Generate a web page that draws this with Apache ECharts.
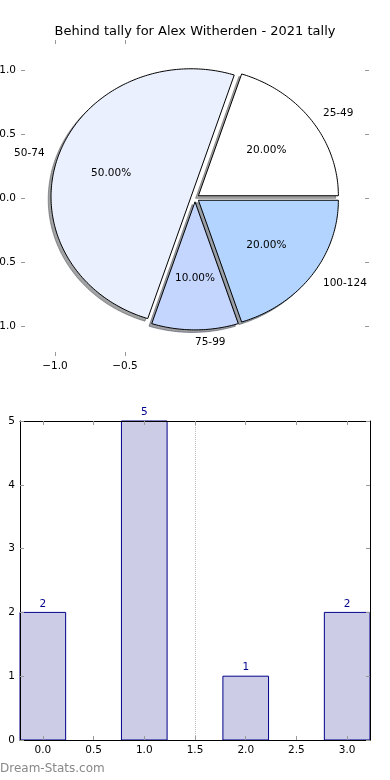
<!DOCTYPE html>
<html><head><meta charset="utf-8">
<script src="https://cdn.jsdelivr.net/npm/echarts@6/dist/echarts.min.js"></script>
<style>html,body{margin:0;padding:0;background:#fff}#c{width:390px;height:780px}</style>
</head><body><div id="c"></div>
<script>
// ---- data ----
const chartTitle = 'Behind tally for Alex Witherden - 2021 tally';
const pieCategories = ['25-49', '50-74', '75-99', '100-124'];
const pieValues = [2, 5, 1, 2];
const pieColors = ['#ffffff', '#eaf0fe', '#c5d6fe', '#b3d4fe'];
const pieXTicks = [-1, -0.5];
const pieYTicks = [-1, -0.5, 0, 0.5, 1];
const barPositions = [0, 1, 2, 3];
const barValues = [2, 5, 1, 2];
const barXTicks = [0, 0.5, 1, 1.5, 2, 2.5, 3];
const barYTicks = [0, 1, 2, 3, 4, 5];
const dividerX = 1.5;
const watermark = 'Dream-Stats.com';

// ---- style constants ----
const FONT = '"DejaVu Sans", sans-serif';
const EXPLODE = 0.03, LABEL_DIST = 1.1, PCT_DIST = 0.6, SHADOW_OFF = -0.02;
const BAR_HALF = 0.225;
const TICK_COLOR = '#999999';

const total = pieValues.reduce((a, b) => a + b, 0);
const cum = []; let acc = 0;
pieValues.forEach(v => { cum.push(acc); acc += v; });

function geom(i) {
  const t1 = cum[i] / total * 360, t2 = (cum[i] + pieValues[i]) / total * 360;
  const tm = (t1 + t2) / 2 * Math.PI / 180;
  return { t1, t2, tm, cx: EXPLODE * Math.cos(tm), cy: EXPLODE * Math.sin(tm) };
}
function wedgePts(api, i, ox, oy) {
  const g = geom(i);
  const pts = [api.coord([g.cx + ox, g.cy + oy])];
  const n = Math.max(4, Math.ceil(g.t2 - g.t1));
  for (let k = 0; k <= n; k++) {
    const a = (g.t1 + (g.t2 - g.t1) * k / n) * Math.PI / 180;
    pts.push(api.coord([g.cx + ox + Math.cos(a), g.cy + oy + Math.sin(a)]));
  }
  return pts;
}
function shadowColor(hex) {
  const r = parseInt(hex.slice(1, 3), 16), g = parseInt(hex.slice(3, 5), 16), b = parseInt(hex.slice(5, 7), 16);
  return 'rgba(' + Math.round(r * 0.3) + ',' + Math.round(g * 0.3) + ',' + Math.round(b * 0.3) + ',0.5)';
}
const fmtTick = v => (v < 0 ? '\u2212' : '') + Math.abs(v).toFixed(1);

// ticks pointing into the plot area (negative length on outside ticks)
const tickStyle = (vals) => {
  const t = { show: true, inside: false, length: -4, lineStyle: { color: TICK_COLOR, width: 1 } };
  if (vals) t.customValues = vals;
  return t;
};
const labelStyle = (vals, margin, fmt) => {
  const l = { show: true, margin: margin, color: '#000', fontSize: 10.5, fontFamily: FONT, formatter: fmt };
  if (vals) l.customValues = vals;
  return l;
};
const noLine = { show: false, onZero: false };
const frameLine = { show: true, onZero: false, lineStyle: { color: '#000', width: 1 } };

const chart = echarts.init(document.getElementById('c'), null, { renderer: 'canvas' });
chart.setOption({
  animation: false,
  backgroundColor: '#fff',
  title: { text: chartTitle, left: 'center', top: 25, padding: 0,
    textStyle: { fontSize: 13, fontWeight: 'normal', fontFamily: FONT, color: '#000' } },
  grid: [
    { left: 21, right: 21, top: 40, height: 316, containLabel: false, outerBoundsMode: 'none' },
    { left: 20, right: 20, top: 421, height: 319, containLabel: false, outerBoundsMode: 'none' }
  ],
  xAxis: [
    { gridIndex: 0, type: 'value', min: -1.243, max: 1.243, position: 'bottom',
      axisLine: noLine, splitLine: { show: false },
      axisTick: tickStyle(pieXTicks), axisLabel: labelStyle(pieXTicks, 5, fmtTick) },
    { gridIndex: 0, type: 'value', min: -1.243, max: 1.243, position: 'top',
      axisLine: noLine, splitLine: { show: false },
      axisTick: tickStyle(pieXTicks), axisLabel: { show: false } },
    { gridIndex: 1, type: 'value', min: -0.225, max: 3.225, position: 'bottom', z: 5,
      axisLine: frameLine, splitLine: { show: false },
      axisTick: tickStyle(barXTicks), axisLabel: labelStyle(barXTicks, 5, v => v.toFixed(1)) },
    { gridIndex: 1, type: 'value', min: -0.225, max: 3.225, position: 'top', z: 5,
      axisLine: frameLine, splitLine: { show: false },
      axisTick: tickStyle(barXTicks), axisLabel: { show: false } }
  ],
  yAxis: [
    { gridIndex: 0, type: 'value', min: -1.234, max: 1.234, position: 'left',
      axisLine: noLine, splitLine: { show: false },
      axisTick: tickStyle(pieYTicks), axisLabel: labelStyle(pieYTicks, 5, fmtTick) },
    { gridIndex: 0, type: 'value', min: -1.234, max: 1.234, position: 'right',
      axisLine: noLine, splitLine: { show: false },
      axisTick: tickStyle(pieYTicks), axisLabel: { show: false } },
    { gridIndex: 1, type: 'value', min: 0, max: 5, interval: 1, position: 'left', z: 5,
      axisLine: frameLine, splitLine: { show: false },
      axisTick: tickStyle(barYTicks), axisLabel: labelStyle(barYTicks, 5, v => String(v)) },
    { gridIndex: 1, type: 'value', min: 0, max: 5, interval: 1, position: 'right', z: 5,
      axisLine: frameLine, splitLine: { show: false },
      axisTick: tickStyle(barYTicks), axisLabel: { show: false } }
  ],
  series: [
    { // pie shadows
      type: 'custom', xAxisIndex: 0, yAxisIndex: 0, z: 1, silent: true,
      data: pieValues.map(v => [0, 0, v]),
      renderItem: (params, api) => {
        const i = params.dataIndex;
        const c = shadowColor(pieColors[i]);
        return { type: 'polygon', shape: { points: wedgePts(api, i, SHADOW_OFF, SHADOW_OFF) },
          style: { fill: c, stroke: c, lineWidth: 1 } };
      }
    },
    { // pie wedges
      type: 'custom', xAxisIndex: 0, yAxisIndex: 0, z: 2, silent: true,
      data: pieValues.map(v => [0, 0, v]),
      renderItem: (params, api) => {
        const i = params.dataIndex;
        const g = geom(i);
        const cosm = Math.cos(g.tm), sinm = Math.sin(g.tm);
        const lp = api.coord([g.cx + LABEL_DIST * cosm, g.cy + LABEL_DIST * sinm]);
        const pp = api.coord([g.cx + PCT_DIST * cosm, g.cy + PCT_DIST * sinm]);
        const left = Math.round(cosm * 1e9) >= 0;
        return { type: 'group', children: [
          { type: 'polygon', shape: { points: wedgePts(api, i, 0, 0) },
            style: { fill: pieColors[i], stroke: '#000', lineWidth: 1, lineJoin: 'miter' } },
          { type: 'text', x: pp[0], y: pp[1],
            style: { text: (pieValues[i] / total * 100).toFixed(2) + '%', fill: '#000',
              font: '10.5px ' + FONT, align: 'center', verticalAlign: 'middle' } },
          { type: 'text', x: lp[0], y: lp[1],
            style: { text: pieCategories[i], fill: '#000',
              font: '10.5px ' + FONT, align: left ? 'left' : 'right', verticalAlign: 'middle' } }
        ] };
      }
    },
    { // bars
      type: 'custom', xAxisIndex: 2, yAxisIndex: 2, z: 2, silent: true,
      data: barPositions.map((x, i) => [x, barValues[i]]),
      renderItem: (params, api) => {
        const x = api.value(0), v = api.value(1);
        const p0 = api.coord([x - BAR_HALF, v]);
        const p1 = api.coord([x + BAR_HALF, 0]);
        return { type: 'group', children: [
          { type: 'rect', shape: { x: p0[0], y: p0[1], width: p1[0] - p0[0], height: p1[1] - p0[1] },
            style: { fill: '#ccccE6', stroke: '#00008b', lineWidth: 1 } },
          { type: 'text', x: (p0[0] + p1[0]) / 2, y: p0[1] - 3,
            style: { text: String(v), fill: '#00008b', font: '10.5px ' + FONT, align: 'center', verticalAlign: 'bottom' } }
        ] };
      },
      markLine: { silent: true, symbol: 'none', label: { show: false },
        lineStyle: { type: 'dotted', color: '#bbbbbb', width: 1 },
        data: [{ xAxis: dividerX }] }
    }
  ],
  graphic: [
    { type: 'text', left: 0, top: 763,
      style: { text: watermark, fill: '#888888', font: '12px ' + FONT } }
  ]
});
</script></body></html>
